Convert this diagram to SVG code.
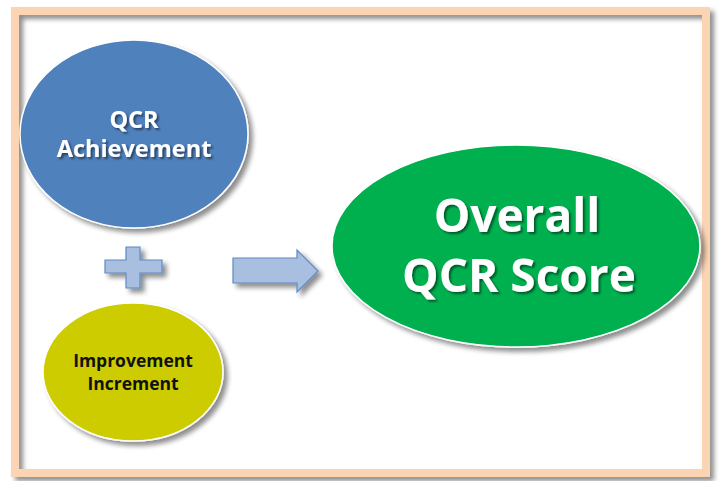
<svg xmlns="http://www.w3.org/2000/svg" width="720" height="481" viewBox="0 0 720 481">
  <defs>
    <filter id="shadow" x="-20%" y="-20%" width="140%" height="140%">
      <feGaussianBlur in="SourceAlpha" stdDeviation="2.5"/>
      <feOffset dx="4" dy="4" result="b"/>
      <feComponentTransfer><feFuncA type="linear" slope="0.45"/></feComponentTransfer>
      <feMerge><feMergeNode/><feMergeNode in="SourceGraphic"/></feMerge>
    </filter>
    <filter id="tshadow" x="-10%" y="-20%" width="120%" height="150%">
      <feGaussianBlur in="SourceAlpha" stdDeviation="1"/>
      <feOffset dx="1.5" dy="1.5"/>
      <feComponentTransfer><feFuncA type="linear" slope="0.5"/></feComponentTransfer>
      <feMerge><feMergeNode/><feMergeNode in="SourceGraphic"/></feMerge>
    </filter>
  </defs>
  <style>
    .node { stroke: #ffffff; stroke-width: 1.5; filter: url(#shadow); }
    .lbl { font-family: "Open Sans", "Liberation Sans", sans-serif; font-weight: bold; text-anchor: middle; }
    .white { fill: #ffffff; filter: url(#tshadow); }
    .dark { fill: #111111; }
    .sym { fill: #A9BFE0; stroke: #5F8AC6; stroke-width: 1.2; filter: url(#shadow); }
  </style>
  <rect x="0" y="0" width="720" height="481" fill="#ffffff"/>
  <rect id="frame" x="15" y="11" width="691" height="462" fill="none" stroke="#FBD4B4" stroke-width="8" filter="url(#shadow)"/>

  <g id="qcr-achievement">
    <ellipse class="node" cx="134" cy="134" rx="114" ry="94" fill="#4F81BD"/>
    <text class="lbl white" x="134" y="128" font-size="23.5">QCR</text>
    <text class="lbl white" x="134" y="157" font-size="23.5">Achievement</text>
  </g>

  <g id="improvement-increment">
    <ellipse class="node" cx="133" cy="372" rx="90" ry="69" fill="#CCCC00"/>
    <text class="lbl dark" x="133" y="367" font-size="17.5">Improvement</text>
    <text class="lbl dark" x="133" y="390" font-size="17.5">Increment</text>
  </g>

  <g id="overall-qcr-score">
    <ellipse class="node" cx="516" cy="246" rx="184" ry="101" fill="#00B050"/>
    <text class="lbl white" x="517" y="232" font-size="46">Overall</text>
    <text class="lbl white" x="519" y="292" font-size="46">QCR Score</text>
  </g>

  <g id="connectors">
    <path id="plus" class="sym" d="M126,247 H140 V260 H162 V273 H140 V288 H126 V273 H105 V260 H126 Z"/>
    <path id="arrow" class="sym" d="M233,258 H297 V250 L318,271 L297,292 V283 H233 Z"/>
  </g>
</svg>
